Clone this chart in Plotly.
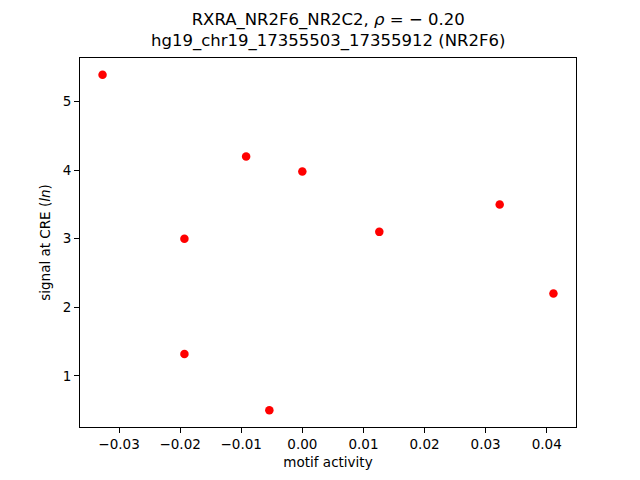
import plotly.graph_objects as go

motif_activity = [-0.0327, -0.0193, -0.0193, -0.0092, -0.0054, 0.0000, 0.0126, 0.0323, 0.0411]
signal = [5.39, 3.00, 1.32, 4.20, 0.50, 3.98, 3.10, 3.50, 2.20]

title_line1 = "RXRA_NR2F6_NR2C2, <i>ρ</i> = − 0.20"
title_line2 = "hg19_chr19_17355503_17355912 (NR2F6)"

font_family = "DejaVu Sans"

fig = go.Figure(go.Scatter(
    x=motif_activity, y=signal, mode="markers",
    marker=dict(color="#ff0000", size=8.5, line=dict(width=0)),
    hoverinfo="skip",
))

xmin, xmax = min(motif_activity), max(motif_activity)
ymin, ymax = min(signal), max(signal)
xm = 0.05 * (xmax - xmin)
ym = 0.05 * (ymax - ymin)

axis_common = dict(
    showline=True, linecolor="black", linewidth=1, mirror=True,
    ticks="outside", ticklen=5, tickwidth=1, tickcolor="black",
    showgrid=False, zeroline=False,
    tickfont=dict(family=font_family, size=13.5, color="black"),
)

fig.update_layout(
    width=640, height=480,
    margin=dict(l=80, r=64, t=58, b=53),
    paper_bgcolor="white", plot_bgcolor="white",
    showlegend=False,
    font=dict(family=font_family, color="black"),
    xaxis=dict(range=[xmin - xm, xmax + xm], tick0=0, dtick=0.01, tickformat=".2f",
               title=dict(text="motif activity", font=dict(family=font_family, size=13.5), standoff=6),
               **axis_common),
    yaxis=dict(range=[ymin - ym, ymax + ym], tick0=0, dtick=1,
               title=dict(text="signal at CRE (<i>ln</i>)", font=dict(family=font_family, size=13.5), standoff=8),
               **axis_common),
    annotations=[dict(
        text=title_line1 + "<br>" + title_line2,
        xref="paper", yref="paper", x=0.5, y=1, xanchor="center", yanchor="bottom",
        yshift=5, showarrow=False, font=dict(family=font_family, size=16.5, color="black"),
    )],
)

fig.write_html("out.html", config={"displayModeBar": False},
               post_script="document.body.style.margin='0';document.body.style.overflow='hidden';")
